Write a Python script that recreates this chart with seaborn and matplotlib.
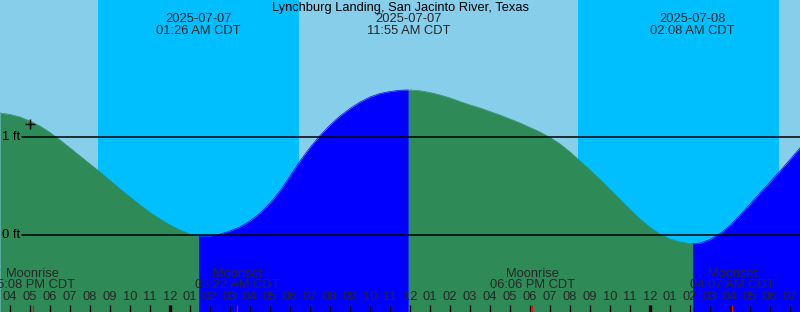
import numpy as np
import pandas as pd
import matplotlib
matplotlib.use("Agg")
import matplotlib.pyplot as plt
import matplotlib.dates as mdates
import seaborn as sns

# ---------------- data ----------------
title = "Lynchburg Landing, San Jacinto River, Texas"

# tide heights (ft) sampled every 30 min from 2025-07-06 15:30 CDT
sample_start = "2025-07-06 15:30"
heights = [
    1.245, 1.230, 1.204, 1.163, 1.112, 1.046, 0.969, 0.888, 0.806, 0.724,
    0.643, 0.556, 0.469, 0.388, 0.306, 0.230, 0.163, 0.102, 0.051, 0.010,
    -0.014, -0.010, 0.010, 0.041, 0.082, 0.143, 0.224, 0.327, 0.449, 0.602,
    0.755, 0.893, 1.015, 1.122, 1.214, 1.291, 1.357, 1.408, 1.444, 1.464,
    1.477, 1.480, 1.472, 1.454, 1.429, 1.398, 1.362, 1.327, 1.296, 1.260,
    1.224, 1.184, 1.143, 1.097, 1.051, 0.995, 0.929, 0.847, 0.755, 0.663,
    0.566, 0.464, 0.362, 0.260, 0.163, 0.077, 0.010, -0.041, -0.071, -0.087,
    -0.082, -0.046, 0.015, 0.097, 0.204, 0.316, 0.429, 0.541, 0.653, 0.770,
    0.888,
]

extreme_times = ["2025-07-07 01:26", "2025-07-07 11:55", "2025-07-08 02:08"]
extreme_heights = [-0.015, 1.480, -0.088]
extreme_dates = ["2025-07-07", "2025-07-07", "2025-07-08"]
extreme_labels = ["01:26 AM CDT", "11:55 AM CDT", "02:08 AM CDT"]

sun_times = ["2025-07-06 20:24", "2025-07-07 06:27", "2025-07-07 20:24", "2025-07-08 06:27"]  # set, rise, set, rise

moon_times = ["2025-07-06 17:08", "2025-07-07 03:22", "2025-07-07 18:06", "2025-07-08 04:07"]
moon_events = ["Moonrise", "Moonset", "Moonrise", "Moonset"]
moon_labels = ["05:08 PM CDT", "03:22 AM CDT", "06:06 PM CDT", "04:07 AM CDT"]

now_time = "2025-07-06 17:00"
now_height = 1.13

y_levels = [0, 1]
y_level_labels = ["0 ft", "1 ft"]

# ---------------- figure ----------------
sns.set_style("white")
plt.rcParams["font.family"] = ["Liberation Sans", "DejaVu Sans"]
FS = 9.3

W, H = 800, 312
fig = plt.figure(figsize=(W / 100, H / 100), dpi=100)
ax = fig.add_axes([0, 0, 1, 1])

t_samples = pd.date_range(sample_start, periods=len(heights), freq="30min")
xs = mdates.date2num(t_samples.to_pydatetime())
ex = mdates.date2num(pd.to_datetime(extreme_times).to_pydatetime())

x0, x1 = xs[0], xs[-1]
ymin, ymax = -77 / 98, 235 / 98
ax.set_xlim(x0, x1)
ax.set_ylim(ymin, ymax)

DAY = "#87CEEB"
NIGHT = "#00BFFF"
FALL = "#2E8B57"
RISE = "#0000FF"

# day / night background
sx = mdates.date2num(pd.to_datetime(sun_times).to_pydatetime())
ax.axvspan(x0, x1, color=DAY, lw=0, zorder=0)
for a, b in [(sx[0], sx[1]), (sx[2], sx[3])]:
    ax.axvspan(a, b, color=NIGHT, lw=0, zorder=0.5)

# combined curve
allx = np.concatenate([xs, ex])
ally = np.concatenate([np.array(heights, float), np.array(extreme_heights, float)])
order = np.argsort(allx)
allx, ally = allx[order], ally[order]

bounds = [x0] + list(ex) + [x1]
kinds = ["low", "high", "low"]
for i in range(len(bounds) - 1):
    a, b = bounds[i], bounds[i + 1]
    m = (allx >= a - 1e-9) & (allx <= b + 1e-9)
    if i < len(kinds):
        col = FALL if kinds[i] == "low" else RISE
    else:
        col = RISE if kinds[-1] == "low" else FALL
    ax.fill_between(allx[m], ymin, ally[m], color=col, lw=0, zorder=1)
    seg = pd.DataFrame({"t": allx[m], "h": ally[m]})
    sns.lineplot(data=seg, x="t", y="h", color=col, lw=0.5, ax=ax, zorder=1.1,
                 sort=True, estimator=None)

# level lines
for lv, lab in zip(y_levels, y_level_labels):
    ax.axhline(lv, xmin=22 / W, xmax=1, color="black", lw=1.1, zorder=3)
    ax.text(20 / W, lv, lab, transform=ax.get_yaxis_transform(), ha="right",
            va="center", fontsize=FS, color="black", zorder=4)

# "now" marker
sns.scatterplot(x=[mdates.date2num(pd.Timestamp(now_time).to_pydatetime())], y=[now_height],
                marker="+", s=50, color="black", linewidth=1.0, ax=ax, zorder=5)

tr = ax.get_xaxis_transform()

def yf(px):
    return (H - px) / H

# title
ax.text(0.5, yf(7.5), title, transform=ax.transAxes, ha="center", va="center",
        fontsize=FS, color="black", zorder=6)

# extreme labels
for x, d, l in zip(ex, extreme_dates, extreme_labels):
    ax.text(x, yf(19.5), d, transform=tr, ha="center", va="center", fontsize=FS, zorder=6)
    ax.text(x, yf(31.5), l, transform=tr, ha="center", va="center", fontsize=FS, zorder=6)

# hour ticks
hours = pd.date_range("2025-07-06 16:00", "2025-07-08 07:00", freq="1h")
for h in hours:
    hx = mdates.date2num(h.to_pydatetime())
    bold = h.hour == 0
    ax.plot([hx, hx], [0, 7 / H], transform=tr, color="black",
            lw=2.4 if bold else 0.9, solid_capstyle="butt", zorder=6)
    ax.text(hx, yf(297.5), h.strftime("%I"), transform=tr, ha="center", va="center",
            fontsize=FS, zorder=6)

# moon events
mx = mdates.date2num(pd.to_datetime(moon_times).to_pydatetime())
for x, ev, l in zip(mx, moon_events, moon_labels):
    ax.plot([x, x], [0, 7 / H], transform=tr, color="red", lw=0.9,
            solid_capstyle="butt", zorder=7)
    ax.text(x, yf(274), ev, transform=tr, ha="center", va="center", fontsize=FS, zorder=6)
    ax.text(x, yf(285.5), l, transform=tr, ha="center", va="center", fontsize=FS, zorder=6)

ax.set_axis_off()
if ax.get_legend() is not None:
    ax.get_legend().remove()
fig.savefig("out.png", dpi=100)
